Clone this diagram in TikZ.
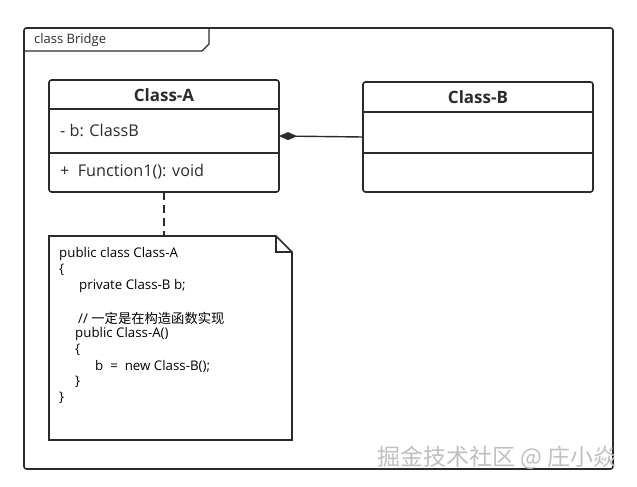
\documentclass[tikz,border=0pt]{standalone}
\usepackage{fontspec}
\setmainfont{Open Sans}
\newfontfamily\cjk{Noto Sans CJK SC}
\usetikzlibrary{arrows.meta}
\definecolor{ln}{HTML}{2b2b2b}
\begin{document}
\begin{tikzpicture}[x=1pt,y=-1pt,
  box/.style={draw=ln,line width=1.6pt,rounded corners=2.5pt},
  sep/.style={draw=ln,line width=1.4pt},
  ttl/.style={font=\fontsize{17}{19}\selectfont\bfseries,text=ln,inner sep=0},
  mem/.style={font=\fontsize{16.2}{18}\selectfont,text=ln,anchor=west,inner sep=0},
  code/.style={font=\fontsize{13.3}{15}\selectfont,text=black,anchor=west,inner sep=0}]
\useasboundingbox (0,0) rectangle (637,487);
% frame
\draw[box] (24,28) rectangle (613,469);
\draw[sep] (24,51) -- (202,51) -- (209,44) -- (209,28);
\node[mem,font=\fontsize{13}{15}\selectfont] (frm) at (34,40) {class Bridge};
% Class-A
\draw[box] (49,80) rectangle (279,192);
\coordinate (aR) at (279,136);
\coordinate (aB) at (164,192);
\draw[sep] (49,109) -- (279,109);
\draw[sep] (49,153) -- (279,153);
\node[ttl] (at) at (164,95) {Class-A};
\node[mem] (ab) at (60,130) {- b: ClassB};
\node[mem] (af) at (60,172) {+\ \ Function1(): void};
% Class-B
\draw[box] (363,82) rectangle (593,192);
\coordinate (bL) at (363,137);
\draw[sep] (363,112) -- (593,112);
\draw[sep] (363,153) -- (593,153);
\node[ttl] (bt) at (478,97) {Class-B};
% composition
\draw[ln,line width=1.4pt,{Diamond[length=18pt,width=8pt,fill=ln]}-] (aR) -- (bL);
% note
\coordinate (nT) at (164,236);
\draw[ln,line width=1.6pt,dashed,dash pattern=on 8pt off 5pt] (aB) -- (nT);
\draw[ln,line width=1.6pt,line join=miter] (49,236) -- (276,236) -- (292,252) -- (292,440) -- (49,440) -- cycle;
\draw[ln,line width=1.4pt] (276,236) -- (276,252) -- (292,252);
\node[code] (c1) at (59,254) {public class Class-A};
\node[code] (c2) at (59,270) {\{};
\node[code] (c3) at (79,286) {private Class-B b;};
\node[code] (c4) at (78,318) {// {\cjk 一定是在构造函数实现}};
\node[code] (c5) at (75,334) {public Class-A()};
\node[code] (c6) at (75,350) {\{};
\node[code] (c7) at (95,366) {b\ \ =\ \ new Class-B();};
\node[code] (c8) at (75,382) {\}};
\node[code] (c9) at (59,398) {\}};
% watermark
\node[anchor=west,inner sep=0,font=\cjk\fontsize{23}{25}\selectfont,text=white!50!gray] (wm) at (377,458) {掘金技术社区 @ 庄小焱};
\end{tikzpicture}
\end{document}
